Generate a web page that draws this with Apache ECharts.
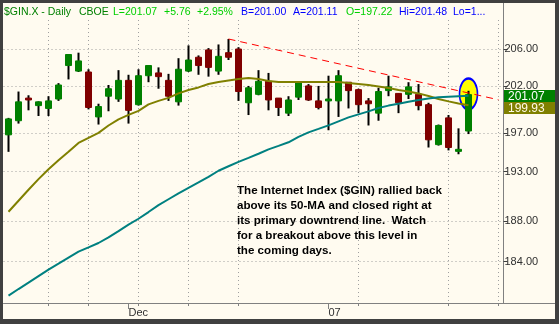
<!DOCTYPE html>
<html>
<head>
<meta charset="utf-8">
<script src="https://cdn.jsdelivr.net/npm/echarts@6/dist/echarts.min.js"></script>
<style>
html, body { margin: 0; padding: 0; background: #404040; }
#frame { position: absolute; left: 0; top: 0; width: 559px; height: 324px; background: #404040; }
#chart { position: absolute; left: 3px; top: 3px; width: 552px; height: 316px; background: #fffbf0; }
</style>
</head>
<body>
<div id="frame"><div id="chart"></div></div>
<script>
// trading days (last three are empty slots on the right)
var dates = [
    '2006-11-14','2006-11-15','2006-11-16','2006-11-17','2006-11-20','2006-11-21','2006-11-22','2006-11-24',
    '2006-11-27','2006-11-28','2006-11-29','2006-11-30','2006-12-01','2006-12-04','2006-12-05','2006-12-06',
    '2006-12-07','2006-12-08','2006-12-11','2006-12-12','2006-12-13','2006-12-14','2006-12-15','2006-12-18',
    '2006-12-19','2006-12-20','2006-12-21','2006-12-22','2006-12-26','2006-12-27','2006-12-28','2006-12-29',
    '2007-01-03','2007-01-04','2007-01-05','2007-01-08','2007-01-09','2007-01-10','2007-01-11','2007-01-12',
    '2007-01-16','2007-01-17','2007-01-18','2007-01-19','2007-01-22','2007-01-23','2007-01-24',
    '2007-01-25','2007-01-26','2007-01-29'
];
var openVals = [196.82,198.3,200.7,199.9,199.6,200.6,204.2,203.6,203.5,198.7,200.9,200.6,202.6,200.0,203.1,203.4,
    202.6,200.3,203.6,205.1,205.9,203.6,205.6,206.0,200.2,201.1,202.5,200.7,199.1,200.8,202.0,200.4,
    200.4,200.4,202.4,201.6,200.4,199.1,201.5,201.2,201.1,201.1,200.0,195.8,198.6,195.1,197.22];
var closeVals = [198.49,200.3,200.5,200.3,200.4,202.1,205.4,204.7,199.7,199.8,201.7,202.6,199.4,203.1,204.2,203.0,
    200.9,203.8,204.8,204.2,204.0,205.2,205.1,201.4,201.8,202.5,200.5,199.7,200.5,202.4,200.5,199.7,
    200.6,203.1,201.5,200.0,200.1,201.4,201.9,200.2,201.9,199.9,196.3,197.8,195.5,195.31,201.07];
var lowVals = [195.05,198.0,199.4,198.8,198.8,200.4,202.7,203.5,199.5,197.9,199.3,200.3,198.0,199.9,202.4,201.7,
    200.4,199.9,203.5,203.2,203.0,203.2,204.8,200.4,198.9,201.0,199.4,198.8,198.8,200.5,200.4,199.5,
    197.3,198.7,199.6,199.1,197.8,198.3,200.9,199.1,200.6,199.4,195.5,195.7,195.2,194.8,196.9];
var highVals = [198.6,201.4,201.0,200.35,200.9,202.3,205.4,205.6,203.8,200.1,202.1,203.7,203.2,203.8,204.2,204.0,
    203.3,205.0,206.4,205.3,206.1,206.5,207.1,206.2,202.0,203.7,203.4,200.7,200.9,202.4,202.2,202.0,
    203.1,203.7,202.4,201.7,200.7,201.8,203.1,201.2,202.4,202.2,200.2,197.9,198.9,197.5,201.48];
var ma20 = [188.94,190.05,191.16,192.24,193.25,194.17,195.05,195.98,196.50,197.03,197.80,198.44,198.92,199.34,200.03,200.40,
    200.72,201.20,201.57,201.84,202.21,202.43,202.59,202.75,202.86,202.75,202.53,202.43,202.43,202.43,202.43,202.43,
    202.43,202.43,202.32,202.21,202.10,201.94,201.78,201.57,201.41,201.20,200.93,200.61,200.35,200.13,199.93];
var ma50 = [180.71,181.34,181.96,182.59,183.22,183.80,184.39,184.98,185.40,185.83,186.39,187.01,187.65,188.24,188.91,189.60,
    190.20,190.80,191.35,191.90,192.48,193.10,193.56,194.02,194.43,194.85,195.31,195.67,196.04,196.61,197.08,197.44,
    197.81,198.23,198.65,198.97,199.29,199.65,199.90,200.10,200.30,200.50,200.65,200.78,200.85,200.90,200.95];
var priceTicks = [184, 188, 193, 197, 202, 206];
var trendStart = [22, 207.1];
var trendEnd = [49, 200.52];
var circlePoint = [46, 201.14];
var monthNames = ['Jan','Feb','Mar','Apr','May','Jun','Jul','Aug','Sep','Oct','Nov','Dec'];
var headerTexts = ['$GIN.X - Daily', 'CBOE', 'L=201.07', '+5.76', '+2.95%', 'B=201.00', 'A=201.11', 'O=197.22', 'Hi=201.48', 'Lo=1...'];
var noteText = 'The Internet Index ($GIN) rallied back\nabove its 50-MA and closed right at\nits primary downtrend line.  Watch\nfor a breakout above this level in\nthe coming days.';

var FONT = '"Liberation Sans", Arial, sans-serif';

function isMonday(idx) {
    return new Date(dates[idx] + 'T00:00:00Z').getUTCDay() === 1;
}
function isMonthStart(idx) {
    return idx > 0 && dates[idx].slice(5, 7) !== dates[idx - 1].slice(5, 7);
}
function monthLabel(val) {
    var m = +val.slice(5, 7);
    return m === 1 ? val.slice(2, 4) : monthNames[m - 1];
}

var bodyData = [], wickData = [];
for (var i = 0; i < openVals.length; i++) {
    var o = openVals[i], c = closeVals[i];
    bodyData.push([o, c, Math.min(o, c), Math.max(o, c)]);
    wickData.push([lowVals[i], highVals[i], lowVals[i], highVals[i]]);
}

var chart = echarts.init(document.getElementById('chart'), null, {renderer: 'canvas'});

var headerX = [1, 76, 110, 161, 194, 238, 290, 343, 396, 450];
var headerColors = ['#008000', '#008000', '#00d000', '#00d000', '#00d000', '#0000ff', '#0000ff', '#00d000', '#0000ff', '#0000ff'];
var graphics = [];
for (var h = 0; h < headerTexts.length; h++) {
    graphics.push({
        type: 'text', x: headerX[h], y: 9.5, silent: true,
        style: {text: headerTexts[h], fill: headerColors[h], fontSize: 10.5, fontFamily: FONT, verticalAlign: 'middle'}
    });
}
graphics.push({type: 'line', silent: true, shape: {x1: 500.5, y1: 0, x2: 500.5, y2: 17}, style: {stroke: '#808080', lineWidth: 1}});
graphics.push({type: 'line', silent: true, shape: {x1: 500, y1: 300.5, x2: 552, y2: 300.5}, style: {stroke: '#808080', lineWidth: 1}});
graphics.push({
    type: 'text', x: 234, y: 180, silent: true, z: 10,
    style: {text: noteText, fill: '#000', fontSize: 11.6, fontWeight: 'bold', fontFamily: FONT, lineHeight: 15, verticalAlign: 'top'}
});

var option = {
    animation: false,
    backgroundColor: '#fffbf0',
    // half-pixel offset keeps the vertical dotted lines crisp
    grid: {left: 0.5, right: 51.5, top: 17, bottom: 16},
    xAxis: [{
        type: 'category',
        data: dates,
        boundaryGap: true,
        position: 'bottom',
        axisLine: {show: true, lineStyle: {color: '#808080', width: 1}},
        axisTick: {show: true, alignWithLabel: true, length: 3, interval: isMonday, lineStyle: {color: '#808080'}},
        axisLabel: {show: true, interval: isMonday, formatter: function () { return ''; }},
        splitLine: {show: true, alignWithLabel: true, interval: isMonday, lineStyle: {color: '#a0a0a0', width: 1, type: [1, 3]}}
    }, {
        type: 'category',
        data: dates,
        boundaryGap: true,
        position: 'bottom',
        axisLine: {show: false},
        axisTick: {show: true, alignWithLabel: true, length: 6, interval: isMonthStart, lineStyle: {color: '#808080'}},
        axisLabel: {show: true, interval: isMonthStart, formatter: monthLabel, align: 'left', margin: 4,
            fontSize: 11, color: '#303030', fontFamily: FONT},
        splitLine: {show: false}
    }],
    yAxis: {
        type: 'log',
        position: 'right',
        min: 180,
        max: 209.2,
        axisLine: {show: true, lineStyle: {color: '#808080', width: 1}},
        axisTick: {show: true, inside: false, length: 4, customValues: priceTicks, lineStyle: {color: '#404040'}},
        axisLabel: {customValues: priceTicks, margin: 1, fontSize: 11, color: '#303030', fontFamily: FONT,
            formatter: function (v) { return (+v).toFixed(2); }},
        splitLine: {show: true, lineStyle: {color: '#a0a0a0', type: [1, 3]}}
    },
    graphic: {elements: graphics},
    series: [{
        type: 'scatter',
        z: 1,
        silent: true,
        data: [circlePoint],
        symbol: 'circle',
        symbolSize: [18, 31],
        itemStyle: {color: '#ffff00', borderColor: '#0000ff', borderWidth: 2, opacity: 1}
    }, {
        type: 'candlestick',
        silent: true,
        data: wickData,
        barWidth: 2,
        itemStyle: {color: '#000', color0: '#000', borderColor: '#000', borderColor0: '#000', borderWidth: 0}
    }, {
        type: 'candlestick',
        silent: true,
        data: bodyData,
        barWidth: 7,
        itemStyle: {color: '#008000', color0: '#800000', borderColor: '#008000', borderColor0: '#800000', borderWidth: 1}
    }, {
        type: 'line',
        silent: true,
        data: ma20,
        showSymbol: false,
        lineStyle: {color: '#808000', width: 2}
    }, {
        type: 'line',
        silent: true,
        data: ma50,
        showSymbol: false,
        lineStyle: {color: '#008080', width: 2},
        markLine: {
            silent: true,
            symbol: ['none', 'none'],
            label: {show: false},
            lineStyle: {color: '#ff0000', width: 1, type: [7, 5]},
            data: [[{coord: trendStart}, {coord: trendEnd}]]
        }
    }]
};
chart.setOption(option);

// last-value tags on the price axis
var yClose = chart.convertToPixel({yAxisIndex: 0}, closeVals[closeVals.length - 1]);
var tagTop = Math.round(yClose) - 5;
var tags = [
    {value: closeVals[closeVals.length - 1], fill: '#008000', text: '#ffffff', top: tagTop},
    {value: ma20[ma20.length - 1], fill: '#808000', text: '#fffbe8', top: tagTop + 12}
];
var tagEls = [];
tags.forEach(function (t) {
    tagEls.push({
        type: 'rect', silent: true, z: 20,
        shape: {x: 501, y: t.top, width: 51, height: 12},
        style: {fill: t.fill}
    });
    tagEls.push({
        type: 'text', silent: true, z: 21, x: 505, y: t.top + 6.5,
        style: {text: t.value.toFixed(2), fill: t.text, fontSize: 12, fontFamily: FONT, verticalAlign: 'middle'}
    });
});
chart.setOption({graphic: {elements: graphics.concat(tagEls)}});
</script>
</body>
</html>
